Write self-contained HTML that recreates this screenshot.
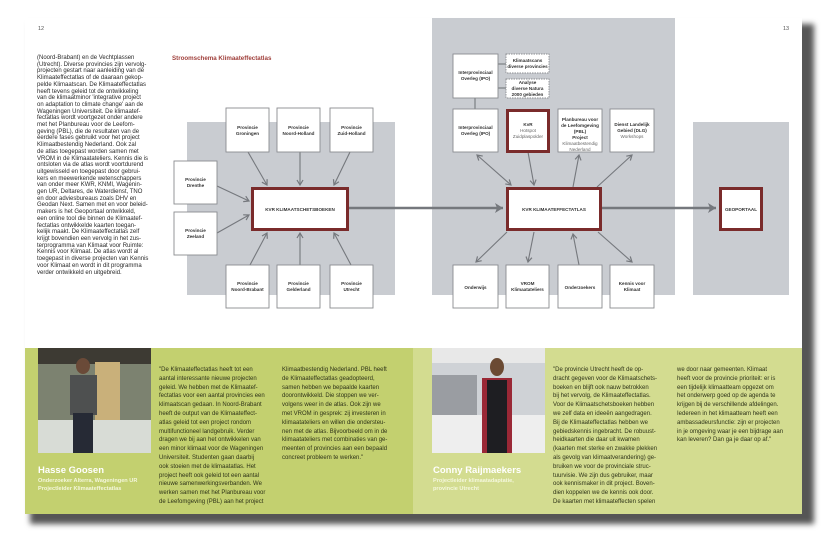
<!DOCTYPE html>
<html><head><meta charset="utf-8">
<style>
html,body{margin:0;padding:0;background:#fff;}
body{width:826px;height:535px;position:relative;overflow:hidden;font-family:"Liberation Sans",sans-serif;}
.t{position:absolute;white-space:nowrap;color:#2a2a2a;}
.body{font-size:6px;line-height:6.7px;}
.q{font-size:6px;line-height:8.8px;color:#2e3318;}
.name{color:#fff;font-weight:bold;font-size:9.5px;}
.sub{color:#f4f7dc;font-weight:bold;font-size:5.6px;line-height:8px;}
</style></head><body>
<!-- shadow -->
<div style="position:absolute;left:30px;top:24px;width:784px;height:500px;background:#555;filter:blur(3px);"></div>
<div style="position:absolute;left:25px;top:18px;width:777px;height:496px;background:#fff;"></div>
<!-- green -->
<div style="position:absolute;left:25px;top:348px;width:388px;height:166px;background:#c3d06f;"></div>
<div style="position:absolute;left:413px;top:348px;width:389px;height:166px;background:#d3dc90;"></div>
<svg style="position:absolute;left:0;top:0" width="826" height="535">
<defs>
<marker id="a" markerWidth="8" markerHeight="8" refX="6" refY="4" orient="auto" markerUnits="userSpaceOnUse"><polyline points="1,1 6,4 1,7" fill="none" stroke="#75787d" stroke-width="1.2"/></marker>
<marker id="b" markerWidth="8" markerHeight="8" refX="6" refY="4" orient="auto-start-reverse" markerUnits="userSpaceOnUse"><polyline points="1,1 6,4 1,7" fill="none" stroke="#75787d" stroke-width="1.2"/></marker>
<marker id="c" markerWidth="12" markerHeight="12" refX="9" refY="6" orient="auto" markerUnits="userSpaceOnUse"><path d="M1,1 L9,6 L1,11 L3,6 Z" fill="#75787d"/></marker>
</defs>
<rect x="187" y="122" width="208" height="173" fill="#c9ccd1"/>
<rect x="432" y="18" width="243" height="277" fill="#c9ccd1"/>
<rect x="693" y="122" width="96" height="173" fill="#c9ccd1"/>
<g stroke="#75787d" stroke-width="1.1" fill="none">
<line x1="248" y1="152" x2="267" y2="185" marker-end="url(#a)"/>
<line x1="300" y1="152" x2="300" y2="185" marker-end="url(#a)"/>
<line x1="350" y1="152" x2="334" y2="185" marker-end="url(#a)"/>
<line x1="217" y1="186" x2="249" y2="201" marker-end="url(#a)"/>
<line x1="217" y1="233" x2="249" y2="215" marker-end="url(#a)"/>
<line x1="250" y1="265" x2="267" y2="233" marker-end="url(#a)"/>
<line x1="300" y1="265" x2="300" y2="233" marker-end="url(#a)"/>
<line x1="351" y1="265" x2="334" y2="233" marker-end="url(#a)"/>
<line x1="477" y1="155" x2="511" y2="185" marker-start="url(#b)" marker-end="url(#a)"/>
<line x1="528" y1="152" x2="534" y2="185" marker-end="url(#a)"/>
<line x1="573" y1="187" x2="579" y2="155" marker-end="url(#a)"/>
<line x1="597" y1="187" x2="632" y2="155" marker-end="url(#a)"/>
<line x1="507" y1="232" x2="476" y2="262" marker-end="url(#a)"/>
<line x1="534" y1="232" x2="528" y2="262" marker-end="url(#a)"/>
<line x1="579" y1="265" x2="573" y2="234" marker-end="url(#a)"/>
<line x1="598" y1="232" x2="632" y2="262" marker-end="url(#a)"/>
<line x1="475" y1="98" x2="475" y2="109"/>
<line x1="498" y1="64" x2="506" y2="64"/>
<line x1="498" y1="88" x2="506" y2="88"/>
</g>
<g stroke="#75787d" stroke-width="2.4">
<line x1="348" y1="208" x2="503" y2="208" marker-end="url(#c)"/>
<line x1="602" y1="208" x2="716" y2="208" marker-end="url(#c)"/>
</g>
<g fill="#fff" stroke="#8a8c90" stroke-width="0.9">
<rect x="226" y="108" width="43" height="44"/><rect x="277" y="108" width="43" height="44"/><rect x="330" y="108" width="43" height="44"/>
<rect x="174" y="161" width="43" height="43"/><rect x="174" y="212" width="43" height="43"/>
<rect x="226" y="265" width="43" height="43"/><rect x="277" y="265" width="43" height="43"/><rect x="330" y="265" width="43" height="43"/>
<rect x="453" y="54" width="45" height="44"/>
<rect x="453" y="109" width="45" height="43"/><rect x="558" y="109" width="44" height="43"/><rect x="610" y="109" width="44" height="43"/>
<rect x="453" y="265" width="45" height="43"/><rect x="506" y="265" width="43" height="43"/><rect x="558" y="265" width="44" height="43"/><rect x="610" y="265" width="44" height="43"/>
</g>
<g fill="#fff" stroke="#8a8c90" stroke-width="0.9" stroke-dasharray="1.5,1">
<rect x="506" y="54" width="43" height="19"/><rect x="506" y="79" width="43" height="19"/>
</g>
<g fill="#fff" stroke="#7a2b2b" stroke-width="3">
<rect x="252.5" y="188.5" width="95" height="41"/>
<rect x="507.5" y="188.5" width="93" height="41"/>
<rect x="507.5" y="110.5" width="41" height="41"/>
<rect x="720.5" y="188.5" width="41" height="41"/>
</g>
<g font-family="Liberation Sans,sans-serif" font-size="4.6" font-weight="bold" fill="#333" text-anchor="middle">
<text x="247.5" y="129">Provincie</text><text x="247.5" y="135">Groningen</text>
<text x="298.5" y="129">Provincie</text><text x="298.5" y="135">Noord-Holland</text>
<text x="351.5" y="129">Provincie</text><text x="351.5" y="135">Zuid-Holland</text>
<text x="195.5" y="181">Provincie</text><text x="195.5" y="187">Drenthe</text>
<text x="195.5" y="232">Provincie</text><text x="195.5" y="238">Zeeland</text>
<text x="247.5" y="285">Provincie</text><text x="247.5" y="291">Noord-Brabant</text>
<text x="298.5" y="285">Provincie</text><text x="298.5" y="291">Gelderland</text>
<text x="351.5" y="285">Provincie</text><text x="351.5" y="291">Utrecht</text>
<text x="300" y="211">KVR KLIMAATSCHETSBOEKEN</text>
<text x="554" y="211">KVR KLIMAATEFFECTATLAS</text>
<text x="741" y="211">GEOPORTAAL</text>
<text x="475.5" y="74">Interprovinciaal</text><text x="475.5" y="80">Overleg (IPO)</text>
<text x="527.5" y="62">Klimaatscans</text><text x="527.5" y="68">diverse provincies</text>
<text x="527.5" y="84">Analyse</text><text x="527.5" y="90">diverse Natura</text><text x="527.5" y="96">2000 gebieden</text>
<text x="475.5" y="129">Interprovinciaal</text><text x="475.5" y="135">Overleg (IPO)</text>
<text x="528" y="126">KvR</text>
<text x="580" y="121">Planbureau voor</text><text x="580" y="127">de Leefomgeving</text><text x="580" y="133">(PBL)</text><text x="580" y="139">Project</text>
<text x="632" y="126">Dienst Landelijk</text><text x="632" y="132">Gebied (DLG)</text>
<text x="475.5" y="289">Onderwijs</text>
<text x="527.5" y="285">VROM</text><text x="527.5" y="291">Klimaatateliers</text>
<text x="580" y="289">Onderzoekers</text>
<text x="632" y="285">Kennis voor</text><text x="632" y="291">Klimaat</text>
</g>
<g font-family="Liberation Sans,sans-serif" font-size="4.6" fill="#666" text-anchor="middle">
<text x="528" y="132">Hotspot</text><text x="528" y="138">Zuidplaspolder</text>
<text x="580" y="145">Klimaatbestendig</text><text x="580" y="151">Nederland</text>
<text x="632" y="138">Workshops</text>
</g>
<!-- photos -->
<rect x="38" y="348" width="113" height="105" fill="#7c8270"/>
<rect x="38" y="348" width="113" height="16" fill="#3d3a33"/>
<rect x="95" y="362" width="25" height="60" fill="#c9b07a"/>
<rect x="38" y="420" width="113" height="33" fill="#d8dcd6"/>
<ellipse cx="83" cy="366" rx="7" ry="8" fill="#6a4a38"/>
<rect x="70" y="375" width="27" height="40" fill="#4e5050"/>
<rect x="73" y="413" width="20" height="40" fill="#262a35"/>
<rect x="432" y="348" width="113" height="105" fill="#cfd2d6"/>
<rect x="432" y="348" width="113" height="15" fill="#e8e8e8"/>
<rect x="432" y="375" width="45" height="40" fill="#9a9da2"/>
<rect x="432" y="415" width="113" height="38" fill="#eeeeee"/>
<ellipse cx="497" cy="367" rx="7" ry="9" fill="#6b4a33"/>
<rect x="482" y="378" width="30" height="75" fill="#9a2836"/>
<rect x="487" y="380" width="20" height="73" fill="#1e1e22"/>
</svg>
<div class="t" style="left:38px;top:26px;font-size:5.5px;color:#555">12</div>
<div class="t" style="left:783px;top:26px;font-size:5.5px;color:#555">13</div>
<div class="t" style="left:172px;top:55px;font-size:6.2px;font-weight:bold;color:#a0403c">Stroomschema Klimaateffectatlas</div>
<div class="t body" style="left:37px;top:55px">(Noord-Brabant) en de Vechtplassen<br>(Utrecht). Diverse provincies zijn vervolg-<br>projecten gestart naar aanleiding van de<br>Klimaateffectatlas of de daaraan gekop-<br>pelde Klimaatscan. De Klimaateffectatlas<br>heeft tevens geleid tot de ontwikkeling<br>van de klimaatminor 'integrative project<br>on adaptation to climate change' aan de<br>Wageningen Universiteit. De klimaatef-<br>fectatlas wordt voortgezet onder andere<br>met het Planbureau voor de Leefom-<br>geving (PBL), die de resultaten van de<br>eerdere fases gebruikt voor het project<br>Klimaatbestendig Nederland. Ook zal<br>de atlas toegepast worden samen met<br>VROM in de Klimaatateliers. Kennis die is<br>ontsloten via de atlas wordt voortdurend<br>uitgewisseld en toegepast door gebrui-<br>kers en meewerkende wetenschappers<br>van onder meer KWR, KNMI, Wagenin-<br>gen UR, Deltares, de Waterdienst, TNO<br>en door adviesbureaus zoals DHV en<br>Geodan Next. Samen met en voor beleid-<br>makers is het Geoportaal ontwikkeld,<br>een online tool die binnen de Klimaatef-<br>fectatlas ontwikkelde kaarten toegan-<br>kelijk maakt. De Klimaateffectatlas zelf<br>krijgt bovendien een vervolg in het zus-<br>terprogramma van Klimaat voor Ruimte:<br>Kennis voor Klimaat. De atlas wordt al<br>toegepast in diverse projecten van Kennis<br>voor Klimaat en wordt in dit programma<br>verder ontwikkeld en uitgebreid.</div>
<div class="t name" style="left:38px;top:465px">Hasse Goosen</div>
<div class="t sub" style="left:38px;top:477px">Onderzoeker Alterra, Wageningen UR<br>Projectleider Klimaateffectatlas</div>
<div class="t q" style="left:159px;top:366px">"De Klimaateffectatlas heeft tot een<br>aantal interessante nieuwe projecten<br>geleid. We hebben met de Klimaatef-<br>fectatlas voor een aantal provincies een<br>klimaatscan gedaan. In Noord-Brabant<br>heeft de output van de Klimaateffect-<br>atlas geleid tot een project rondom<br>multifunctioneel landgebruik. Verder<br>dragen we bij aan het ontwikkelen van<br>een minor klimaat voor de Wageningen<br>Universiteit. Studenten gaan daarbij<br>ook stoeien met de klimaatatlas. Het<br>project heeft ook geleid tot een aantal<br>nieuwe samenwerkingsverbanden. We<br>werken samen met het Planbureau voor<br>de Leefomgeving (PBL) aan het project</div>
<div class="t q" style="left:282px;top:366px">Klimaatbestendig Nederland. PBL heeft<br>de Klimaateffectatlas geadopteerd,<br>samen hebben we bepaalde kaarten<br>doorontwikkeld. Die stoppen we ver-<br>volgens weer in de atlas. Ook zijn we<br>met VROM in gesprek: zij investeren in<br>klimaatateliers en willen die ondersteu-<br>nen met de atlas. Bijvoorbeeld om in de<br>klimaatateliers met combinaties van ge-<br>meenten of provincies aan een bepaald<br>concreet probleem te werken."</div>
<div class="t name" style="left:433px;top:465px">Conny Raijmaekers</div>
<div class="t sub" style="left:433px;top:477px">Projectleider klimaatadaptatie,<br>provincie Utrecht</div>
<div class="t q" style="left:553px;top:366px">"De provincie Utrecht heeft de op-<br>dracht gegeven voor de Klimaatschets-<br>boeken en blijft ook nauw betrokken<br>bij het vervolg, de Klimaateffectatlas.<br>Voor de Klimaatschetsboeken hebben<br>we zelf data en ideeën aangedragen.<br>Bij de Klimaateffectatlas hebben we<br>gebiedskennis ingebracht. De robuust-<br>heidkaarten die daar uit kwamen<br>(kaarten met sterke en zwakke plekken<br>als gevolg van klimaatverandering) ge-<br>bruiken we voor de provinciale struc-<br>tuurvisie. We zijn dus gebruiker, maar<br>ook kennismaker in dit project. Boven-<br>dien koppelen we de kennis ook door.<br>De kaarten met klimaateffecten spelen</div>
<div class="t q" style="left:677px;top:366px">we door naar gemeenten. Klimaat<br>heeft voor de provincie prioriteit: er is<br>een tijdelijk klimaatteam opgezet om<br>het onderwerp goed op de agenda te<br>krijgen bij de verschillende afdelingen.<br>Iedereen in het klimaatteam heeft een<br>ambassadeursfunctie: zijn er projecten<br>in je omgeving waar je een bijdrage aan<br>kan leveren? Dan ga je daar op af."</div>
</body></html>
